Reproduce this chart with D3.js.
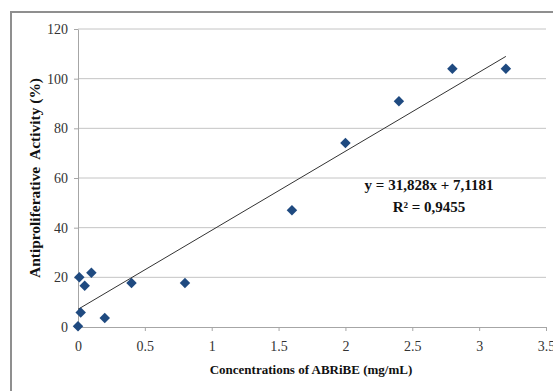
<!DOCTYPE html>
<html>
<head>
<meta charset="utf-8">
<script src="https://cdn.jsdelivr.net/npm/d3@7"></script>
<style>
  body { margin: 0; background: #fff; }
  text { font-family: "Liberation Serif", "Times New Roman", serif; }
</style>
</head>
<body>
<div id="chart"></div>
<script>
// Data
const concentrations = [0, 0.01, 0.02, 0.05, 0.1, 0.2, 0.4, 0.8, 1.6, 2.0, 2.4, 2.8, 3.2];
const activity = [0.3, 20, 5.8, 16.6, 21.8, 3.6, 17.7, 17.7, 47, 74.1, 90.9, 104, 104];
const xTicks = [0, 0.5, 1, 1.5, 2, 2.5, 3, 3.5];
const yTicks = [0, 20, 40, 60, 80, 100, 120];
const slope = 31.828, intercept = 7.1181;
const equationLabels = ["y = 31,828x + 7,1181", "R² = 0,9455"];

const width = 553, height = 391;
const margin = { top: 29, right: 7, bottom: 64, left: 78 };

const svg = d3.select("#chart")
  .append("svg")
  .attr("width", width)
  .attr("height", height);

// Outer frame (extends past the picture on the right and bottom)
svg.append("rect")
  .attr("x", 11).attr("y", 12)
  .attr("width", width).attr("height", height)
  .attr("fill", "none")
  .attr("stroke", "#8f8f8f")
  .attr("stroke-width", 2);

const xScale = d3.scaleLinear().domain([0, 3.5]).range([margin.left, width - margin.right]);
const yScale = d3.scaleLinear().domain([0, 120]).range([height - margin.bottom, margin.top]);

// Horizontal gridlines
svg.append("g")
  .selectAll("line")
  .data(yTicks.filter(d => d > 0))
  .join("line")
  .attr("x1", xScale(0)).attr("x2", xScale(3.5))
  .attr("y1", d => yScale(d)).attr("y2", d => yScale(d))
  .attr("stroke", "#c4c4c4")
  .attr("stroke-width", 1);

// Axes
const xAxis = svg.append("g")
  .attr("transform", `translate(0, ${yScale(0)})`)
  .call(d3.axisBottom(xScale).tickValues(xTicks).tickSize(4).tickSizeOuter(0).tickFormat(d3.format("")));
const yAxis = svg.append("g")
  .attr("transform", `translate(${xScale(0)}, 0)`)
  .call(d3.axisLeft(yScale).tickValues(yTicks).tickSize(4).tickSizeOuter(0));

[xAxis, yAxis].forEach(g => {
  g.attr("font-family", "Liberation Serif, serif").attr("font-size", 14);
  g.select(".domain").attr("stroke", "#a6a6a6");
  g.selectAll(".tick line").attr("stroke", "#a6a6a6");
  g.selectAll(".tick text").attr("fill", "#333");
});
xAxis.selectAll(".tick text").attr("dy", "1.2em");
yAxis.selectAll(".tick text").attr("x", -10);

// Linear trendline
svg.append("line")
  .attr("x1", xScale(0)).attr("y1", yScale(intercept))
  .attr("x2", xScale(3.2)).attr("y2", yScale(slope * 3.2 + intercept))
  .attr("stroke", "#333")
  .attr("stroke-width", 1);

// Diamond markers
const diamond = d3.symbol().type(d3.symbolDiamond2).size(70);
svg.append("g")
  .selectAll("path")
  .data(concentrations.map((c, i) => ({ x: c, y: activity[i] })))
  .join("path")
  .attr("d", diamond)
  .attr("transform", d => `translate(${xScale(d.x)}, ${yScale(d.y)})`)
  .attr("fill", "#1f4a80");

// Regression equation
svg.append("g")
  .selectAll("text")
  .data(equationLabels)
  .join("text")
  .attr("x", 429)
  .attr("y", (d, i) => 190 + i * 22)
  .attr("text-anchor", "middle")
  .attr("font-size", "15px")
  .attr("font-weight", "bold")
  .attr("fill", "#111")
  .text(d => d);

// Axis titles
svg.append("text")
  .attr("x", 311)
  .attr("y", 374)
  .attr("text-anchor", "middle")
  .attr("font-size", "13px")
  .attr("font-weight", "bold")
  .attr("fill", "#111")
  .text("Concentrations of ABRiBE (mg/mL)");

svg.append("text")
  .attr("transform", "translate(40, 178) rotate(-90)")
  .attr("text-anchor", "middle")
  .attr("font-size", "14px")
  .attr("font-weight", "bold")
  .attr("fill", "#111")
  .attr("textLength", 200)
  .attr("lengthAdjust", "spacingAndGlyphs")
  .attr("xml:space", "preserve")
  .text("Antiproliferative  Activity (%)");
</script>
</body>
</html>
